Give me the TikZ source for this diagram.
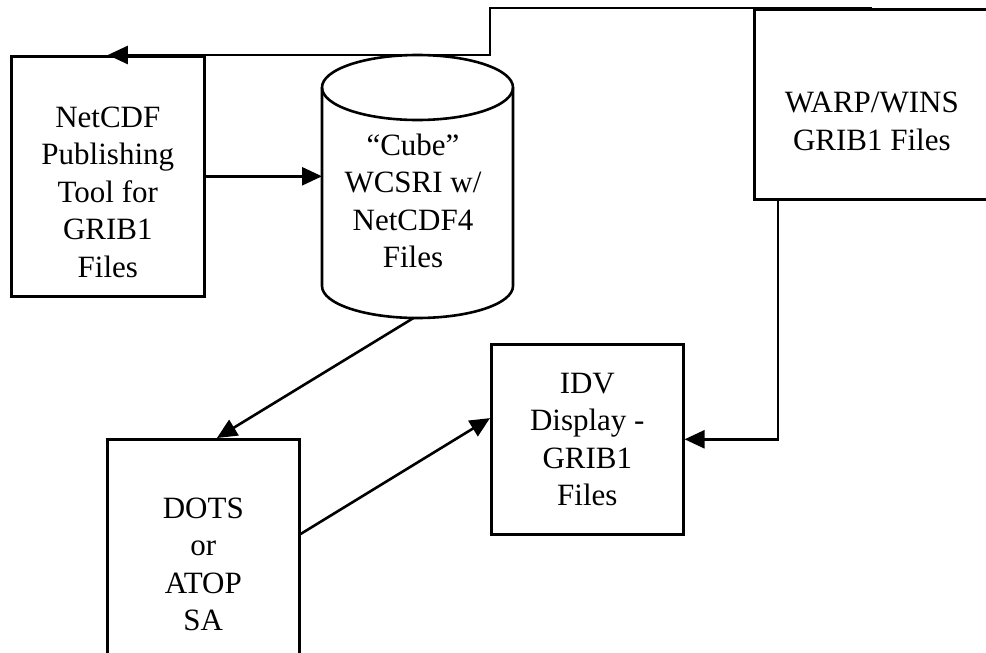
\documentclass[tikz,border=0pt]{standalone}
\usepackage{fontspec}
\setmainfont{Liberation Serif}
\usetikzlibrary{arrows.meta, positioning, calc}

\begin{document}
\begin{tikzpicture}[
  x=1pt, y=-1pt,
  every node/.style={font=\fontsize{31pt}{37.5pt}\selectfont, align=center, inner sep=0pt},
  box/.style={draw, line width=2.6pt, anchor=north west},
  store/.style={line width=2.6pt},
  arrow/.style={-{Triangle[length=20pt, width=18pt]}, line width=2.6pt},
  ]

  \useasboundingbox (0,0) rectangle (986,653);

  % Publishing tool
  \node[box, minimum width=193pt, minimum height=240pt] (netcdf) at (10,55) {};
  \node at ($(netcdf.center)+(0,16)$) (netcdf-txt) {NetCDF\\Publishing\\Tool for\\GRIB1\\Files};

  % Cube store (drawn by hand)
  \coordinate (cube-top) at (417.5,87.5);
  \coordinate (cube-bot) at (417.5,286);
  \coordinate (cube-side) at ($(cube-top)+(-95.5,0)$);
  \coordinate (cube-base) at ($(cube-bot)+(-4,32)$);
  \draw[store] (cube-top) ellipse [x radius=95.5, y radius=32.5];
  \draw[store] (cube-side) -- ($(cube-bot)+(-95.5,0)$)
    arc[start angle=180, end angle=0, x radius=95.5, y radius=32]
    -- ($(cube-top)+(95.5,0)$);
  \node at (413,201) (cube) {“Cube”\\WCSRI w/\\NetCDF4\\Files};

  % WARP/WINS files
  \node[box, minimum width=235pt, minimum height=190pt] (warp) at (753,8) {};
  \node at ($(warp.center)+(0,17)$) (warp-txt) {WARP/WINS\\GRIB1 Files};

  % Displays
  \node[box, minimum width=192pt, minimum height=190pt] (idv) at (490,343) {IDV\\Display -\\GRIB1\\Files};
  \node[box, minimum width=192pt, minimum height=250pt] (dots) at (106,438) {DOTS\\or\\ATOP\\SA};

  % Arrows
  \coordinate (topbend) at (490,55);
  \draw[arrow] (warp.north) -| (topbend) -- (netcdf.north);
  \draw[arrow] (netcdf.east) -- (netcdf.east -| cube-side);
  \draw[arrow] (cube-base) -- ($(dots.north west)!0.57!(dots.north east)$);
  \draw[arrow] ($(dots.north east)!0.38!(dots.south east)$) -- ($(idv.north west)!0.39!(idv.south west)$);
  \draw[arrow] ($(warp.south west)!0.106!(warp.south east)$) |- (idv.east);

\end{tikzpicture}
\end{document}
